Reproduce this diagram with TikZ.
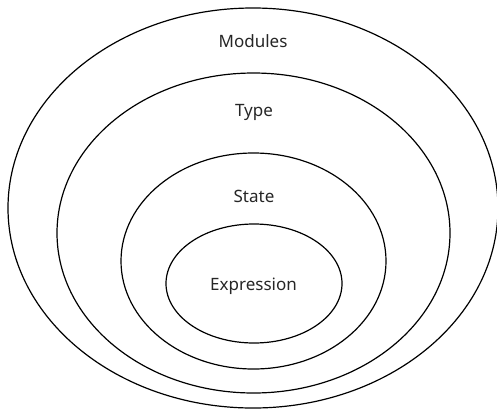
\documentclass[tikz,border=0pt]{standalone}
\usepackage{fontspec}
\setmainfont{Noto Sans}
\usetikzlibrary{shapes.geometric}
\begin{document}
\begin{tikzpicture}[x=1pt,y=-1pt,
  ring/.style={draw=black, line width=1.2pt, ellipse, inner sep=0pt},
  lbl/.style={anchor=base, font=\fontsize{17}{17}\selectfont, text=black!85}]
\useasboundingbox (0,0) rectangle (497,408);
\node[ring, minimum width=490pt, minimum height=400pt] (modules) at (253,208) {};
\node[ring, minimum width=393pt, minimum height=320pt] (type) at (253.5,233) {};
\node[ring, minimum width=265pt, minimum height=216pt] (state) at (253.5,261) {};
\node[ring, minimum width=176pt, minimum height=119pt] (expr) at (254,283.5) {};
\node[lbl] (lmodules) at (253,47) {Modules};
\node[lbl] (ltype) at (254,116) {Type};
\node[lbl] (lstate) at (254,202) {State};
\node[lbl] (lexpr) at (253.5,290) {Expression};
\end{tikzpicture}
\end{document}
